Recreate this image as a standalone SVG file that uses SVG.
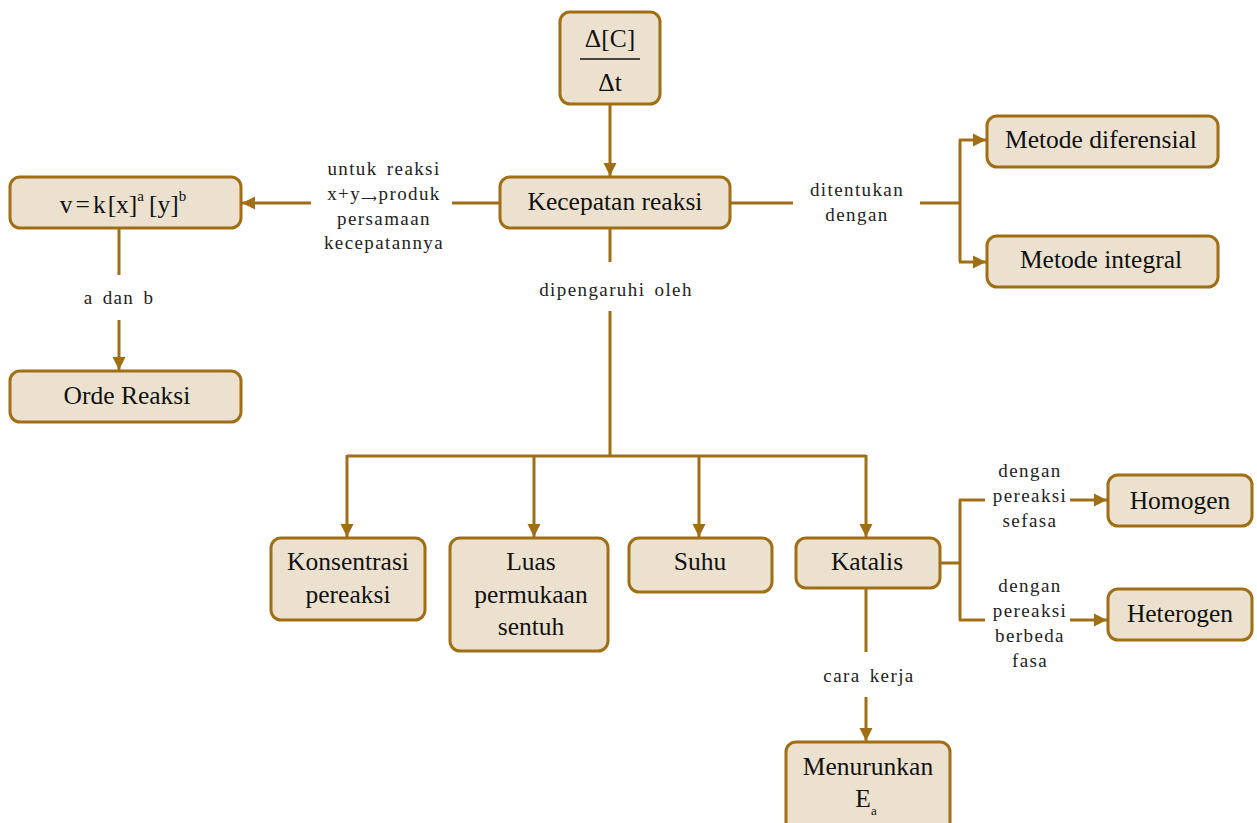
<svg xmlns="http://www.w3.org/2000/svg" width="1257" height="823" viewBox="0 0 1257 823">
<style>
.box{fill:#ece1cf;stroke:#a06f15;stroke-width:3}
.ln{fill:none;stroke:#a06f15;stroke-width:3}
.arr{fill:none;stroke:#a06f15;stroke-width:3;marker-end:url(#ah)}
.nt{font-family:"Liberation Serif",serif;font-size:25.5px;fill:#111;text-anchor:middle}
.lb{font-family:"Liberation Serif",serif;font-size:19px;fill:#222;text-anchor:middle;letter-spacing:1.4px;word-spacing:3px}
</style>
<defs>
<marker id="ah" viewBox="0 0 10 10" refX="10" refY="5" markerWidth="4.4" markerHeight="4.4" orient="auto" markerUnits="strokeWidth">
<path d="M0,0 L10,5 L0,10 z" fill="#a06f15"/>
</marker>
</defs>
<rect width="1257" height="823" fill="#fff"/>
<g id="connectors">
<path class="arr" d="M610,104 V176"/>
<path class="ln" d="M500,203 H452"/>
<path class="arr" d="M311,203 H242"/>
<path class="ln" d="M730,203 H793"/>
<path class="ln" d="M920,203 H960 M960,140 V262"/>
<path class="arr" d="M959,140 H986"/>
<path class="arr" d="M959,262 H986"/>
<path class="ln" d="M610,228 V262 M610,311 V456"/>
<path class="ln" d="M347,456 H866"/>
<path class="arr" d="M347,455 V537"/>
<path class="arr" d="M534,455 V537"/>
<path class="arr" d="M699,455 V537"/>
<path class="arr" d="M866,455 V537"/>
<path class="ln" d="M119,228 V275"/>
<path class="arr" d="M119,320 V370"/>
<path class="ln" d="M940,563 H960 M960,500 V620 M959,500 H985 M959,620 H985"/>
<path class="arr" d="M1070,500 H1107"/>
<path class="arr" d="M1070,620 H1107"/>
<path class="ln" d="M866,588 V652"/>
<path class="arr" d="M866,697 V741"/>
</g>
<g id="labels">
<text class="lb" x="384" y="175">untuk reaksi</text>
<text class="lb" x="384" y="200">x+y<tspan font-size="11" dy="2">⟶</tspan><tspan dy="-2">produk</tspan></text>
<text class="lb" x="384" y="225">persamaan</text>
<text class="lb" x="384" y="249">kecepatannya</text>
<text class="lb" x="857" y="196">ditentukan</text>
<text class="lb" x="857" y="221">dengan</text>
<text class="lb" x="616" y="296">dipengaruhi oleh</text>
<text class="lb" x="119" y="304">a dan b</text>
<text class="lb" x="1030" y="477">dengan</text>
<text class="lb" x="1030" y="502">pereaksi</text>
<text class="lb" x="1030" y="527">sefasa</text>
<text class="lb" x="1030" y="592">dengan</text>
<text class="lb" x="1030" y="617">pereaksi</text>
<text class="lb" x="1030" y="642">berbeda</text>
<text class="lb" x="1030" y="667">fasa</text>
<text class="lb" x="869" y="682">cara kerja</text>
</g>
<g id="node-dc-dt">
<rect class="box" x="560" y="12" width="100" height="92" rx="10"/>
<text class="nt" x="610" y="47" font-size="29">Δ[C]</text>
<line x1="580" y1="59" x2="640" y2="59" stroke="#111" stroke-width="1.5"/>
<text class="nt" x="610" y="91" font-size="29">Δt</text>
</g>
<g id="node-kecepatan">
<rect class="box" x="500" y="177" width="230" height="51" rx="10"/>
<text class="nt" x="615" y="210">Kecepatan reaksi</text>
</g>
<g id="node-rate-law">
<rect class="box" x="10" y="177" width="231" height="51" rx="10"/>
<text class="nt" x="123" y="213" font-size="28">v<tspan dx="3">=</tspan><tspan dx="3">k</tspan><tspan dx="2">[x]</tspan><tspan font-size="15" dy="-12">a</tspan><tspan dy="12" dx="5">[y]</tspan><tspan font-size="15" dy="-12">b</tspan></text>
</g>
<g id="node-orde">
<rect class="box" x="10" y="371" width="231" height="51" rx="10"/>
<text class="nt" x="127" y="404">Orde Reaksi</text>
</g>
<g id="node-diferensial">
<rect class="box" x="987" y="116" width="231" height="51" rx="10"/>
<text class="nt" x="1101" y="148">Metode diferensial</text>
</g>
<g id="node-integral">
<rect class="box" x="987" y="236" width="231" height="51" rx="10"/>
<text class="nt" x="1101" y="268">Metode integral</text>
</g>
<g id="node-konsentrasi">
<rect class="box" x="271" y="538" width="154" height="82" rx="10"/>
<text class="nt" x="348" y="570">Konsentrasi</text>
<text class="nt" x="348" y="603">pereaksi</text>
</g>
<g id="node-luas">
<rect class="box" x="450" y="538" width="158" height="113" rx="10"/>
<text class="nt" x="531" y="570">Luas</text>
<text class="nt" x="531" y="603">permukaan</text>
<text class="nt" x="531" y="635">sentuh</text>
</g>
<g id="node-suhu">
<rect class="box" x="629" y="538" width="143" height="54" rx="10"/>
<text class="nt" x="700" y="570">Suhu</text>
</g>
<g id="node-katalis">
<rect class="box" x="796" y="538" width="144" height="50" rx="10"/>
<text class="nt" x="867" y="570">Katalis</text>
</g>
<g id="node-homogen">
<rect class="box" x="1108" y="475" width="144" height="51" rx="10"/>
<text class="nt" x="1180" y="509">Homogen</text>
</g>
<g id="node-heterogen">
<rect class="box" x="1108" y="589" width="144" height="51" rx="10"/>
<text class="nt" x="1180" y="622">Heterogen</text>
</g>
<g id="node-menurunkan">
<rect class="box" x="786" y="742" width="164" height="95" rx="10"/>
<text class="nt" x="868" y="775" font-size="26.5">Menurunkan</text>
<text class="nt" x="866" y="807" font-size="26.5">E<tspan font-size="13" dy="8">a</tspan></text>
</g>
</svg>
